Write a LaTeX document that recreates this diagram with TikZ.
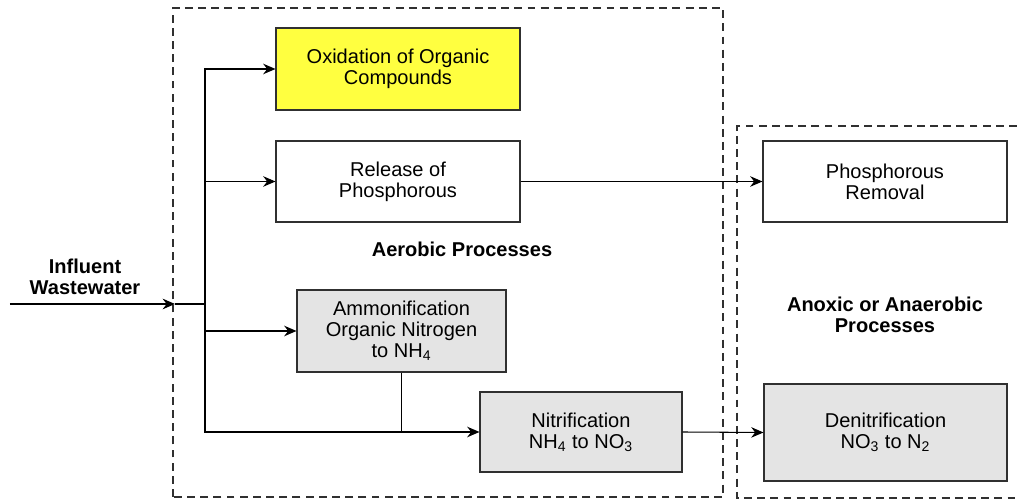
\documentclass[tikz,border=0pt]{standalone}
\usepackage{fontspec}
\setmainfont{Liberation Sans}
\usetikzlibrary{arrows.meta}
\definecolor{boxyellow}{HTML}{FFFF40}
\definecolor{boxgray}{HTML}{E4E4E4}
\definecolor{edgegray}{HTML}{303030}

\begin{document}
\begin{tikzpicture}[font=\fontsize{11.4}{12}\selectfont,
		procbox/.style={draw=edgegray,line width=0.6pt,align=center,inner sep=0pt},
		zone/.style={draw=edgegray,line width=0.6pt,dash pattern=on 4.5pt off 3pt},
		lbl/.style={font=\fontsize{11.4}{12}\selectfont\bfseries,align=center},
		>={Stealth[length=7pt,width=6pt]}]
		\useasboundingbox (0,0) rectangle (20.34,10.02);
		% process zones
		\draw[zone] (3.46,0.08) rectangle (14.46,9.86);
		\draw[zone] (20.34,7.5) -- (14.74,7.5) -- (14.74,0.06) -- (20.34,0.06);
		\node[lbl] (aerobic) at (9.24,5.04) {Aerobic Processes};
		\node[lbl] (anoxic) at (17.70,3.72) {Anoxic or Anaerobic\\Processes};
		\node[lbl] (influent) at (1.70,4.48) {Influent\\Wastewater};
		% boxes
		\node[procbox,fill=boxyellow,minimum width=4.88cm,minimum height=1.64cm] (oxid) at (7.96,8.64) {Oxidation of Organic\\Compounds};
		\node[procbox,fill=white,minimum width=4.88cm,minimum height=1.62cm] (release) at (7.96,6.39) {Release of\\Phosphorous};
		\node[procbox,fill=white,minimum width=4.88cm,minimum height=1.62cm] (premoval) at (17.70,6.39) {Phosphorous\\Removal};
		\node[procbox,fill=boxgray,minimum width=4.18cm,minimum height=1.64cm] (ammon) at (8.03,3.40) {Ammonification\\Organic Nitrogen\\to NH\textsubscript{4}};
		\node[procbox,fill=boxgray,minimum width=4.04cm,minimum height=1.60cm] (nitrif) at (11.62,1.38) {Nitrification\\NH\textsubscript{4} to NO\textsubscript{3}};
		\node[procbox,fill=boxgray,minimum width=4.86cm,minimum height=1.94cm] (denitr) at (17.71,1.37) {Denitrification\\NO\textsubscript{3} to N\textsubscript{2}};
		% flow
		\coordinate (inlet) at (0.2,3.94);
		\coordinate (entry) at (3.5,3.94);
		\coordinate (split) at (4.1,3.94);
		\draw[line width=1.1pt,->] (inlet) -- (entry);
		\draw[line width=1.1pt] (entry) -- (split);
		\draw[line width=0.6pt,->] (split) |- (oxid.west);
		\draw[line width=0.6pt,->] (split) |- (release.west);
		\draw[line width=0.6pt,->] (split) |- (ammon.west);
		\draw[line width=0.6pt,->] (split) |- (nitrif.west);
		\draw[line width=0.6pt] (ammon.south) -- (ammon.south |- nitrif.west);
		\draw[line width=0.6pt,->] (release.east) -- (premoval.west);
		\draw[line width=0.6pt,->] (nitrif.east) -- (denitr.west);
	\end{tikzpicture}
\end{document}
